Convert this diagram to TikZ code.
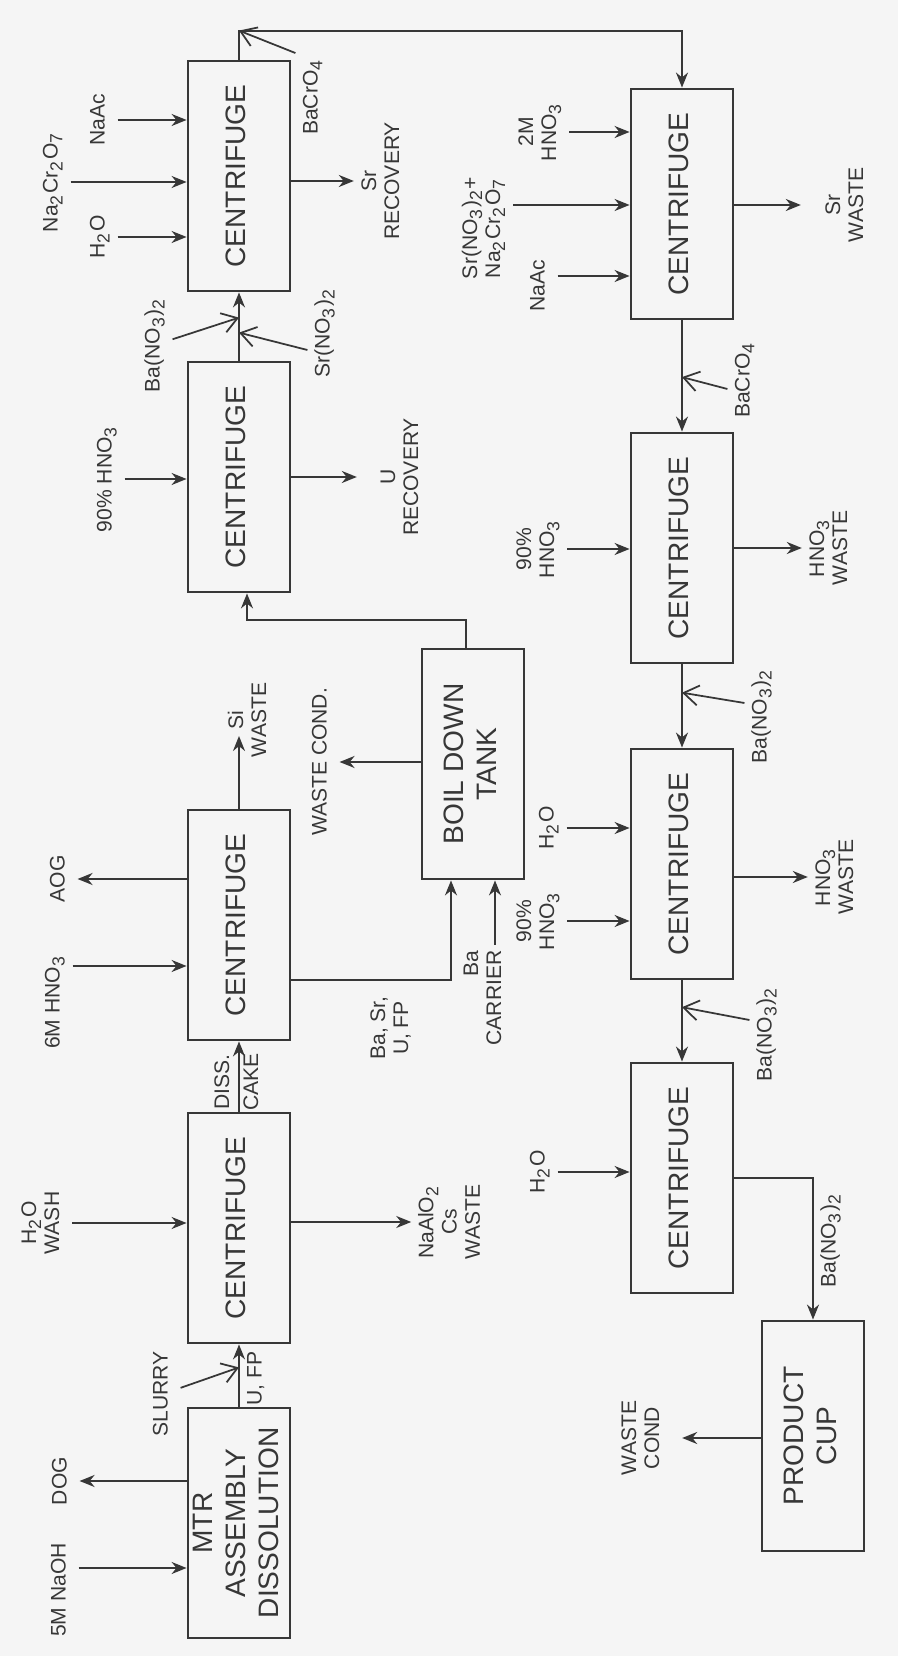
\documentclass[tikz,border=0pt]{standalone}
\usepackage{fontspec}
\setmainfont{Liberation Sans}
\usepackage{graphicx}
\usetikzlibrary{arrows.meta, positioning, calc}
\definecolor{ink}{RGB}{55, 55, 55}
\definecolor{paper}{RGB}{245, 245, 245}

\newcommand{\vtxt}[2][c]{\rotatebox{90}{\begin{tabular}{@{}#1@{}}#2\end{tabular}}}
\newcommand{\sbs}[1]{\textsubscript{#1}}

\begin{document}
\begin{tikzpicture}[
  every node/.style={font=\fontsize{6}{6.6}\selectfont, text=ink},
  box/.style={draw=ink, line width=0.8pt, minimum width=1.02cm, minimum height=2.3cm, inner sep=0pt, font=\fontsize{8}{9.4}\selectfont},
  lbl/.style={inner sep=1.5pt},
  arrow/.style={-{Stealth[length=1.5mm, width=1.2mm]}, line width=0.6pt, draw=ink},
  feed/.style={-{Straight Barb[length=1.5mm, width=2mm]}, line width=0.5pt, draw=ink}
]
  \fill[paper] (0,0) rectangle (8.98,16.56);
  \useasboundingbox (0,0) rectangle (8.98,16.56);

  % left column
  \node[box] (diss) at (2.39, 1.33) {\vtxt{MTR\\ASSEMBLY\\DISSOLUTION}};
  \node[box] (cf1) at (2.39, 4.28) {\vtxt{CENTRIFUGE}};
  \node[box] (cf2) at (2.39, 7.31) {\vtxt{CENTRIFUGE}};
  \node[box] (cf3) at (2.39, 11.79) {\vtxt{CENTRIFUGE}};
  \node[box] (cf4) at (2.39, 14.80) {\vtxt{CENTRIFUGE}};
  \node[box] (tank) at (4.73, 8.92) {\vtxt{BOIL DOWN\\TANK}};

  % right column
  \node[box] (cf8) at (6.82, 14.52) {\vtxt{CENTRIFUGE}};
  \node[box] (cf7) at (6.82, 11.08) {\vtxt{CENTRIFUGE}};
  \node[box] (cf6) at (6.82, 7.92) {\vtxt{CENTRIFUGE}};
  \node[box] (cf5) at (6.82, 4.78) {\vtxt{CENTRIFUGE}};
  \node[box] (cup) at (8.13, 2.20) {\vtxt{PRODUCT\\CUP}};

  % streams, left column
  \node[lbl] (naoh) at (0.61, 0.66) {\vtxt{5M NaOH}};
  \node[lbl] (dog) at (0.62, 1.75) {\vtxt{DOG}};
  \node[lbl] (slurry) at (1.63, 2.62) {\vtxt{SLURRY}};
  \node[lbl] (wash) at (0.43, 4.33) {\vtxt{H\sbs{2}O\\WASH}};
  \node[lbl] (naalo) at (4.52, 4.34) {\vtxt{NaAlO\sbs{2}\\Cs\\WASTE}};
  \node[lbl] (hno6) at (0.55, 6.54) {\vtxt{6M HNO\sbs{3}}};
  \node[lbl] (aog) at (0.60, 7.77) {\vtxt{AOG}};
  \node[lbl] (siw) at (2.50, 9.36) {\vtxt{Si\\WASTE}};
  \node[lbl] (bsu) at (3.92, 6.28) {\vtxt{Ba, Sr,\\U, FP}};
  \node[lbl] (carrier) at (4.85, 6.58) {\vtxt[r]{Ba\\CARRIER}};
  \node[lbl] (wcond) at (3.22, 8.94) {\vtxt{WASTE COND.}};
  \node[lbl] (hno90a) at (1.07, 11.77) {\vtxt{90\% HNO\sbs{3}}};
  \node[lbl] (urec) at (4.02, 11.79) {\vtxt{U\\RECOVERY}};
  \node[lbl] (bano1) at (1.55, 13.11) {\vtxt{Ba(NO\sbs{3})\sbs{2}}};
  \node[lbl] (srno) at (3.25, 13.23) {\vtxt{Sr(NO\sbs{3})\sbs{2}}};
  \node[lbl] (h2oa) at (1.00, 14.19) {\vtxt{H\sbs{2}O}};
  \node[lbl] (nacr) at (0.53, 14.74) {\vtxt{Na\sbs{2}Cr\sbs{2}O\sbs{7}}};
  \node[lbl] (naaca) at (1.00, 15.36) {\vtxt{NaAc}};
  \node[lbl] (srrec) at (3.83, 14.75) {\vtxt{Sr\\RECOVERY}};
  \node[lbl] (bacra) at (3.13, 15.59) {\vtxt{BaCrO\sbs{4}}};

  % streams, right column
  \node[lbl] (hno2m) at (5.40, 15.24) {\vtxt{2M\\HNO\sbs{3}}};
  \node[lbl] (srna) at (4.84, 14.28) {\vtxt{Sr(NO\sbs{3})\sbs{2}+\\Na\sbs{2}Cr\sbs{2}O\sbs{7}}};
  \node[lbl] (naacb) at (5.40, 13.70) {\vtxt{NaAc}};
  \node[lbl] (srw) at (8.47, 14.51) {\vtxt{Sr\\WASTE}};
  \node[lbl] (bacrb) at (7.45, 12.76) {\vtxt{BaCrO\sbs{4}}};
  \node[lbl] (hno90b) at (5.38, 11.07) {\vtxt{90\%\\HNO\sbs{3}}};
  \node[lbl] (hnowa) at (8.31, 11.08) {\vtxt{HNO\sbs{3}\\WASTE}};
  \node[lbl] (banob) at (7.62, 9.40) {\vtxt{Ba(NO\sbs{3})\sbs{2}}};
  \node[lbl] (h2ob) at (5.49, 8.28) {\vtxt{H\sbs{2}O}};
  \node[lbl] (hno90c) at (5.38, 7.35) {\vtxt{90\%\\HNO\sbs{3}}};
  \node[lbl] (hnowb) at (8.37, 7.79) {\vtxt{HNO\sbs{3}\\WASTE}};
  \node[lbl] (banoc) at (7.67, 6.22) {\vtxt{Ba(NO\sbs{3})\sbs{2}}};
  \node[lbl] (h2oc) at (5.40, 4.84) {\vtxt{H\sbs{2}O}};
  \node[lbl] (wcond2) at (6.43, 2.18) {\vtxt{WASTE\\COND}};

  % dissolution and first washes
  \draw[arrow] ([yshift=2.2mm]naoh.east) -- ([yshift=2.2mm]naoh.east -| diss.west);
  \draw[arrow] (dog -| diss.west) -- (dog);
  \draw[arrow] (diss) -- coordinate[pos=0.63] (jslurry) node[lbl, right, pos=0.45] (ufp) {\vtxt{U, FP}} (cf1);
  \draw[feed] (slurry) -- (jslurry);
  \draw[arrow] (wash) -- (wash -| cf1.west);
  \draw[arrow] (naalo -| cf1.east) -- (naalo);
  \draw[arrow] (cf1) -- node[lbl, left, pos=0.42, inner sep=0.5pt] (dss) {\vtxt{DISS.}} node[lbl, right, pos=0.42, inner sep=0.5pt] (cake) {\vtxt{CAKE}} (cf2);
  \draw[arrow] ([yshift=3.6mm]hno6.east) -- ([yshift=3.6mm]hno6.east -| cf2.west);
  \draw[arrow] (aog -| cf2.west) -- (aog);
  \draw[arrow] (cf2.north) -- ([yshift=-1.6mm]siw.center -| cf2.north);

  % boil down
  \draw[arrow] ([yshift=-5.5mm]cf2.east) -| ([xshift=-2.2mm]tank.south);
  \draw[arrow] ([xshift=1mm]carrier.north) -- ([xshift=1mm]carrier.north |- tank.south);
  \draw[arrow] (wcond -| tank.west) -- (wcond);
  \draw[arrow] ([xshift=-0.7mm]tank.north) -- ++(0,0.28) -| ([xshift=0.8mm]cf3.south);

  % U and Sr recovery
  \draw[arrow] (hno90a) -- (hno90a -| cf3.west);
  \draw[arrow, shorten >=1.6mm] (urec -| cf3.east) -- (urec);
  \draw[arrow] (cf3) -- coordinate[pos=0.41] (jsr) coordinate[pos=0.63] (jba) (cf4);
  \draw[feed] (bano1) -- (jba);
  \draw[feed] ([yshift=-1.7mm]srno.west) -- (jsr);
  \draw[arrow] (h2oa) -- (h2oa -| cf4.west);
  \draw[arrow] (nacr) -- (nacr -| cf4.west);
  \draw[arrow] (naaca) -- (naaca -| cf4.west);
  \draw[arrow] (srrec -| cf4.east) -- (srrec);
  \draw[arrow] (cf4.north) -- ++(0,0.29) coordinate (crn) -| (cf8.north);
  \draw[feed] (bacra.north west) -- (crn);

  % Sr waste and nitrate washes
  \draw[arrow] (hno2m) -- (hno2m -| cf8.west);
  \draw[arrow] ([yshift=2.3mm]srna.east) -- ([yshift=2.3mm]srna.east -| cf8.west);
  \draw[arrow] ([yshift=1mm]naacb.east) -- ([yshift=1mm]naacb.east -| cf8.west);
  \draw[arrow, shorten >=1.7mm] (srw -| cf8.east) -- (srw);
  \draw[arrow] (cf8) -- coordinate[pos=0.51] (jcr) (cf7);
  \draw[feed] ([yshift=-0.9mm]bacrb.west) -- (jcr);

  \draw[arrow] (hno90b) -- (hno90b -| cf7.west);
  \draw[arrow] (hnowa -| cf7.east) -- (hnowa);
  \draw[arrow] (cf7) -- coordinate[pos=0.34] (jbb) (cf6);
  \draw[feed] ([yshift=1.3mm]banob.west) -- (jbb);

  \draw[arrow] (h2ob) -- (h2ob -| cf6.west);
  \draw[arrow] (hno90c) -- (hno90c -| cf6.west);
  \draw[arrow] (hnowb -| cf6.east) -- (hnowb);
  \draw[arrow] (cf6) -- coordinate[pos=0.33] (jbc) (cf5);
  \draw[feed] ([yshift=1.4mm]banoc.west) -- (jbc);

  % product
  \draw[arrow] (h2oc) -- (h2oc -| cf5.west);
  \draw[arrow] (cf5.east) -| node[lbl, right, pos=0.72] (banod) {\vtxt{Ba(NO\sbs{3})\sbs{2}}} (cup.north);
  \draw[arrow, shorten >=1mm] (wcond2 -| cup.west) -- (wcond2);

\end{tikzpicture}
\end{document}
